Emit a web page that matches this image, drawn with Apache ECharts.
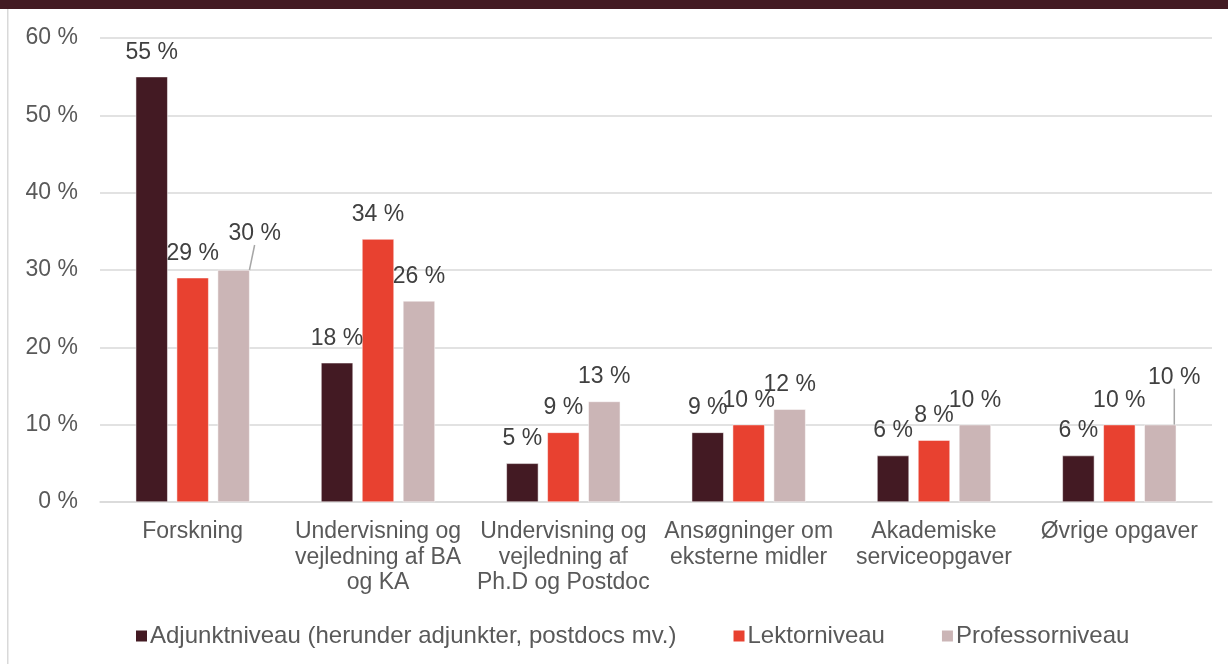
<!DOCTYPE html>
<html>
<head>
<meta charset="utf-8">
<script src="https://cdn.jsdelivr.net/npm/echarts@6/dist/echarts.min.js"></script>
<style>
html, body { margin: 0; padding: 0; background: #fff; }
#chart { width: 1228px; height: 664px; }
</style>
</head>
<body>
<div id="chart"></div>
<script>
const categories = [
	'Forskning',
	'Undervisning og\nvejledning af BA\nog KA',
	'Undervisning og\nvejledning af\nPh.D og Postdoc',
	'Ansøgninger om\neksterne midler',
	'Akademiske\nserviceopgaver',
	'Øvrige opgaver'
];
const seriesNames = [
	'Adjunktniveau (herunder adjunkter, postdocs mv.)',
	'Lektorniveau',
	'Professorniveau'
];
const adjunkt = [55, 18, 5, 9, 6, 6];
const lektor = [29, 34, 9, 10, 8, 10];
const professor = [30, 26, 13, 12, 10, 10];
const yTicks = [0, 10, 20, 30, 40, 50, 60];

const colors = ['#431a23', '#e84130', '#cbb5b6'];
// labels that Excel moved away from the bar, with a leader line
const movedLabels = { '2-0': { dx: 21, dy: -12 }, '2-5': { dx: 14, dy: -23 } };

const font = 'Liberation Sans, Arial, sans-serif';
const labelStyle = {
	show: true,
	position: 'top',
	distance: 13,
	formatter: '{c} %',
	fontSize: 23,
	color: '#404040',
	fontFamily: font
};
const leader = { show: true, lineStyle: { color: '#a6a6a6', width: 1.5 } };

const makeSeries = (name, values, idx) => ({
	name,
	type: 'bar',
	barWidth: 32,
	barGap: '28%',
	itemStyle: { color: colors[idx], borderColor: '#fff', borderWidth: 0.5 },
	label: labelStyle,
	labelLine: { show: false },
	data: values.map((v, i) => (movedLabels[`${idx}-${i}`] ? { value: v, labelLine: leader } : v)),
	z: 2
});

const chart = echarts.init(document.getElementById('chart'));
chart.setOption({
	backgroundColor: '#fff',
	animation: false,
	textStyle: { fontFamily: font },
	graphic: [
		{ type: 'rect', shape: { x: 0, y: 0, width: 1228, height: 9 }, style: { fill: '#431b23' } },
		{ type: 'rect', shape: { x: 7, y: 9, width: 1.5, height: 655 }, style: { fill: '#d9d9d9' } }
	],
	legend: {
		top: 619,
		left: 129,
		itemWidth: 13,
		itemHeight: 13,
		itemGap: 55,
		icon: 'rect',
		textStyle: { fontSize: 24, color: '#595959', fontFamily: font, padding: [0, 0, 0, -3] },
		data: seriesNames
	},
	grid: { left: 100, right: 16, top: 38, bottom: 162 },
	xAxis: {
		type: 'category',
		data: categories,
		axisTick: { show: false },
		axisLine: { lineStyle: { color: '#d9d9d9', width: 1.5 } },
		axisLabel: {
			interval: 0,
			margin: 17,
			fontSize: 23,
			lineHeight: 25.5,
			color: '#595959',
			fontFamily: font
		}
	},
	yAxis: {
		type: 'value',
		min: yTicks[0],
		max: yTicks[yTicks.length - 1],
		interval: 10,
		axisLine: { show: false },
		axisTick: { show: false },
		splitLine: { lineStyle: { color: '#d9d9d9', width: 1.5 } },
		axisLabel: {
			formatter: '{value} %',
			margin: 22,
			fontSize: 23,
			color: '#595959',
			fontFamily: font
		}
	},
	labelLayout: (params) => {
		const m = movedLabels[`${params.seriesIndex}-${params.dataIndex}`];
		if (!m) return {};
		const bar = params.rect;
		const lr = params.labelRect;
		const start = [bar.x + bar.width / 2, bar.y];
		const end = [lr.x + lr.width / 2 + m.dx - 2, lr.y + lr.height + m.dy + 5];
		return { dx: m.dx, dy: m.dy, labelLinePoints: [start, end, end] };
	},
	series: [
		makeSeries(seriesNames[0], adjunkt, 0),
		makeSeries(seriesNames[1], lektor, 1),
		makeSeries(seriesNames[2], professor, 2)
	]
});
</script>
</body>
</html>
